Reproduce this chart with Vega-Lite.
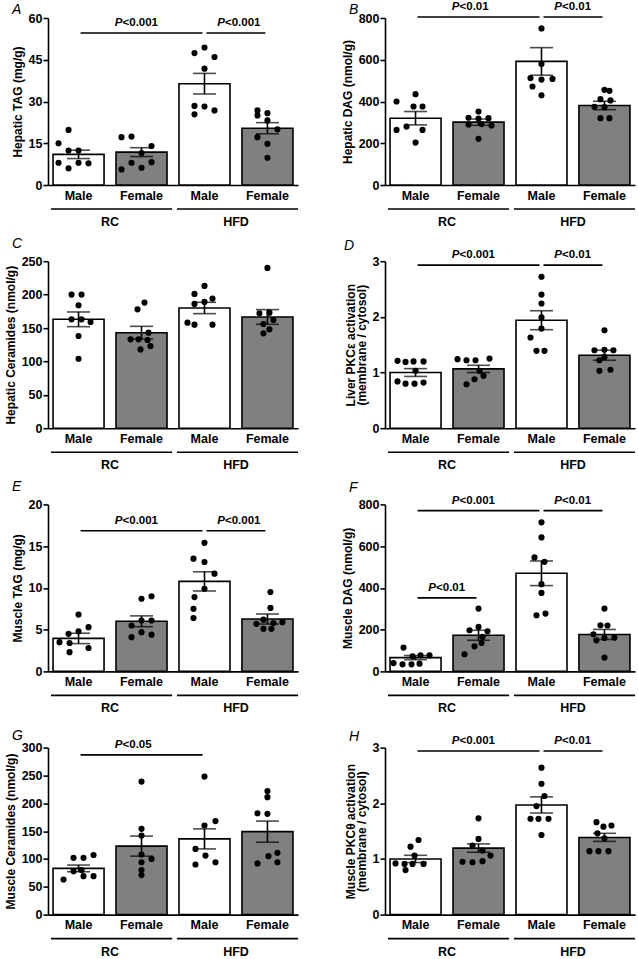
{
"$schema":"https://vega.github.io/schema/vega-lite/v6.json",
"autosize":{"type":"none"},
"padding":{"left":48,"top":18,"right":590,"bottom":941},
"config":{"font":"Liberation Sans","view":{"stroke":null},
"axis":{"domainColor":"black","domainWidth":1.6,"tickColor":"black","tickWidth":1.6,"labelColor":"black","labelFontWeight":"bold","labelFontSize":12.5,"titleColor":"black","titleFontWeight":"bold","titleFontSize":12,"grid":false},
"axisX":{"ticks":false,"labelAngle":0,"labelPadding":4},
"axisY":{"tickSize":5,"labelPadding":1,"titlePadding":4,"titleLineHeight":11,"labelOverlap":false,"tickCount":10},
"title":{"anchor":"start","frame":"group","fontSize":14,"fontStyle":"italic","fontWeight":"normal","color":"black","dx":-36,"offset":-1,"baseline":"alphabetic"}},
"datasets":{
"bars":[
{"panel":"A","cat":"RC-Male","mean":11.0,"lo":9.5,"hi":12.5},{"panel":"A","cat":"RC-Female","mean":11.8,"lo":10.2,"hi":13.4},{"panel":"A","cat":"HFD-Male","mean":36.4,"lo":32.7,"hi":40.1},{"panel":"A","cat":"HFD-Female","mean":20.4,"lo":18.4,"hi":22.4},
{"panel":"B","cat":"RC-Male","mean":320,"lo":288,"hi":352},{"panel":"B","cat":"RC-Female","mean":301,"lo":286,"hi":316},{"panel":"B","cat":"HFD-Male","mean":592,"lo":526,"hi":658},{"panel":"B","cat":"HFD-Female","mean":381,"lo":361,"hi":401},
{"panel":"C","cat":"RC-Male","mean":163,"lo":152,"hi":174},{"panel":"C","cat":"RC-Female","mean":143,"lo":133.5,"hi":152.5},{"panel":"C","cat":"HFD-Male","mean":180,"lo":171.5,"hi":188.5},{"panel":"C","cat":"HFD-Female","mean":166.5,"lo":155.5,"hi":177.5},
{"panel":"D","cat":"RC-Male","mean":1.0,"lo":0.93,"hi":1.07},{"panel":"D","cat":"RC-Female","mean":1.065,"lo":1.0,"hi":1.13},{"panel":"D","cat":"HFD-Male","mean":1.94,"lo":1.77,"hi":2.11},{"panel":"D","cat":"HFD-Female","mean":1.31,"lo":1.22,"hi":1.40},
{"panel":"E","cat":"RC-Male","mean":3.95,"lo":3.33,"hi":4.57},{"panel":"E","cat":"RC-Female","mean":6.0,"lo":5.35,"hi":6.65},{"panel":"E","cat":"HFD-Male","mean":10.78,"lo":9.63,"hi":11.93},{"panel":"E","cat":"HFD-Female","mean":6.27,"lo":5.67,"hi":6.87},
{"panel":"F","cat":"RC-Male","mean":66,"lo":56,"hi":76},{"panel":"F","cat":"RC-Female","mean":173,"lo":149,"hi":197},{"panel":"F","cat":"HFD-Male","mean":470,"lo":411,"hi":529},{"panel":"F","cat":"HFD-Female","mean":177,"lo":153,"hi":201},
{"panel":"G","cat":"RC-Male","mean":83,"lo":77,"hi":89},{"panel":"G","cat":"RC-Female","mean":123,"lo":105,"hi":141},{"panel":"G","cat":"HFD-Male","mean":136,"lo":118,"hi":154},{"panel":"G","cat":"HFD-Female","mean":149,"lo":130,"hi":168},
{"panel":"H","cat":"RC-Male","mean":1.0,"lo":0.935,"hi":1.065},{"panel":"H","cat":"RC-Female","mean":1.195,"lo":1.12,"hi":1.27},{"panel":"H","cat":"HFD-Male","mean":1.97,"lo":1.825,"hi":2.115},{"panel":"H","cat":"HFD-Female","mean":1.386,"lo":1.315,"hi":1.46}
],
"dots":[
{"panel":"A","cat":"RC-Male","v":19.8,"j":-1},{"panel":"A","cat":"RC-Male","v":15,"j":-2},{"panel":"A","cat":"RC-Male","v":12.4,"j":-1},{"panel":"A","cat":"RC-Male","v":12.4,"j":0},{"panel":"A","cat":"RC-Male","v":8,"j":-2},{"panel":"A","cat":"RC-Male","v":8,"j":0},{"panel":"A","cat":"RC-Male","v":7.8,"j":1},{"panel":"A","cat":"RC-Male","v":6,"j":-1},
{"panel":"A","cat":"RC-Female","v":17.2,"j":-2},{"panel":"A","cat":"RC-Female","v":17.4,"j":-1},{"panel":"A","cat":"RC-Female","v":14,"j":1},{"panel":"A","cat":"RC-Female","v":11.5,"j":0},{"panel":"A","cat":"RC-Female","v":8,"j":-1},{"panel":"A","cat":"RC-Female","v":8.2,"j":1},{"panel":"A","cat":"RC-Female","v":5.6,"j":-2},{"panel":"A","cat":"RC-Female","v":6.2,"j":0},
{"panel":"A","cat":"HFD-Male","v":47.4,"j":-1},{"panel":"A","cat":"HFD-Male","v":49.4,"j":0},{"panel":"A","cat":"HFD-Male","v":46,"j":1},{"panel":"A","cat":"HFD-Male","v":41.8,"j":0},{"panel":"A","cat":"HFD-Male","v":28.4,"j":-1},{"panel":"A","cat":"HFD-Male","v":28.2,"j":0},{"panel":"A","cat":"HFD-Male","v":25.4,"j":-1},{"panel":"A","cat":"HFD-Male","v":26.8,"j":1},
{"panel":"A","cat":"HFD-Female","v":26.8,"j":-1},{"panel":"A","cat":"HFD-Female","v":25.8,"j":0},{"panel":"A","cat":"HFD-Female","v":25,"j":-1},{"panel":"A","cat":"HFD-Female","v":23.2,"j":0},{"panel":"A","cat":"HFD-Female","v":20,"j":1},{"panel":"A","cat":"HFD-Female","v":17.2,"j":-1},{"panel":"A","cat":"HFD-Female","v":14.8,"j":0},{"panel":"A","cat":"HFD-Female","v":9.8,"j":0},
{"panel":"B","cat":"RC-Male","v":435,"j":0},{"panel":"B","cat":"RC-Male","v":400,"j":-1.9},{"panel":"B","cat":"RC-Male","v":376,"j":-0.2},{"panel":"B","cat":"RC-Male","v":376,"j":0.7},{"panel":"B","cat":"RC-Male","v":280,"j":-0.9},{"panel":"B","cat":"RC-Male","v":264,"j":-1.9},{"panel":"B","cat":"RC-Male","v":264,"j":0.7},{"panel":"B","cat":"RC-Male","v":203,"j":0},
{"panel":"B","cat":"RC-Female","v":352,"j":0},{"panel":"B","cat":"RC-Female","v":322,"j":-1},{"panel":"B","cat":"RC-Female","v":318,"j":0},{"panel":"B","cat":"RC-Female","v":320,"j":1},{"panel":"B","cat":"RC-Female","v":290,"j":-1},{"panel":"B","cat":"RC-Female","v":292,"j":0.3},{"panel":"B","cat":"RC-Female","v":285,"j":1.3},{"panel":"B","cat":"RC-Female","v":221,"j":0},
{"panel":"B","cat":"HFD-Male","v":750,"j":0},{"panel":"B","cat":"HFD-Male","v":580,"j":0},{"panel":"B","cat":"HFD-Male","v":512,"j":-1.1},{"panel":"B","cat":"HFD-Male","v":505,"j":0},{"panel":"B","cat":"HFD-Male","v":508,"j":1.1},{"panel":"B","cat":"HFD-Male","v":472,"j":-0.9},{"panel":"B","cat":"HFD-Male","v":430,"j":0},
{"panel":"B","cat":"HFD-Female","v":456,"j":0},{"panel":"B","cat":"HFD-Female","v":451,"j":0.5},{"panel":"B","cat":"HFD-Female","v":411,"j":-0.4},{"panel":"B","cat":"HFD-Female","v":405,"j":0.6},{"panel":"B","cat":"HFD-Female","v":375,"j":-1},{"panel":"B","cat":"HFD-Female","v":373,"j":0},{"panel":"B","cat":"HFD-Female","v":320,"j":-0.4},{"panel":"B","cat":"HFD-Female","v":320,"j":0.5},
{"panel":"C","cat":"RC-Male","v":200,"j":-0.7},{"panel":"C","cat":"RC-Male","v":200,"j":0.3},{"panel":"C","cat":"RC-Male","v":184,"j":0},{"panel":"C","cat":"RC-Male","v":163,"j":-0.7},{"panel":"C","cat":"RC-Male","v":163,"j":0.3},{"panel":"C","cat":"RC-Male","v":159,"j":1.2},{"panel":"C","cat":"RC-Male","v":138,"j":0},{"panel":"C","cat":"RC-Male","v":104,"j":0},
{"panel":"C","cat":"RC-Female","v":188,"j":0.3},{"panel":"C","cat":"RC-Female","v":178,"j":-0.4},{"panel":"C","cat":"RC-Female","v":143,"j":0.7},{"panel":"C","cat":"RC-Female","v":133,"j":-1.1},{"panel":"C","cat":"RC-Female","v":133,"j":-0.3},{"panel":"C","cat":"RC-Female","v":132,"j":0.6},{"panel":"C","cat":"RC-Female","v":123,"j":0.9},{"panel":"C","cat":"RC-Female","v":118,"j":-0.1},
{"panel":"C","cat":"HFD-Male","v":213,"j":0},{"panel":"C","cat":"HFD-Male","v":201,"j":-1},{"panel":"C","cat":"HFD-Male","v":194,"j":0.8},{"panel":"C","cat":"HFD-Male","v":189,"j":0},{"panel":"C","cat":"HFD-Male","v":186,"j":-1},{"panel":"C","cat":"HFD-Male","v":158,"j":-1.7},{"panel":"C","cat":"HFD-Male","v":155,"j":-1},{"panel":"C","cat":"HFD-Male","v":155,"j":0.8},
{"panel":"C","cat":"HFD-Female","v":240,"j":0},{"panel":"C","cat":"HFD-Female","v":173,"j":0.2},{"panel":"C","cat":"HFD-Female","v":172,"j":-0.8},{"panel":"C","cat":"HFD-Female","v":162,"j":0.6},{"panel":"C","cat":"HFD-Female","v":156,"j":-0.4},{"panel":"C","cat":"HFD-Female","v":148,"j":0.2},{"panel":"C","cat":"HFD-Female","v":142,"j":-0.4},
{"panel":"D","cat":"RC-Male","v":1.21,"j":-1.8},{"panel":"D","cat":"RC-Male","v":1.19,"j":-1},{"panel":"D","cat":"RC-Male","v":1.2,"j":-0.2},{"panel":"D","cat":"RC-Male","v":1.2,"j":0.8},{"panel":"D","cat":"RC-Male","v":1.03,"j":0},{"panel":"D","cat":"RC-Male","v":0.84,"j":-1.8},{"panel":"D","cat":"RC-Male","v":0.8,"j":-1},{"panel":"D","cat":"RC-Male","v":0.8,"j":-0.1},{"panel":"D","cat":"RC-Male","v":0.82,"j":0.8},
{"panel":"D","cat":"RC-Female","v":1.24,"j":-2.1},{"panel":"D","cat":"RC-Female","v":1.22,"j":-1.2},{"panel":"D","cat":"RC-Female","v":1.22,"j":-0.3},{"panel":"D","cat":"RC-Female","v":1.25,"j":1.1},{"panel":"D","cat":"RC-Female","v":1.03,"j":0.1},{"panel":"D","cat":"RC-Female","v":0.94,"j":0.5},{"panel":"D","cat":"RC-Female","v":0.88,"j":-0.4},{"panel":"D","cat":"RC-Female","v":0.79,"j":-1.2},
{"panel":"D","cat":"HFD-Male","v":2.72,"j":0},{"panel":"D","cat":"HFD-Male","v":2.4,"j":0},{"panel":"D","cat":"HFD-Male","v":2.24,"j":0},{"panel":"D","cat":"HFD-Male","v":1.99,"j":0},{"panel":"D","cat":"HFD-Male","v":1.79,"j":0},{"panel":"D","cat":"HFD-Male","v":1.63,"j":-1.1},{"panel":"D","cat":"HFD-Male","v":1.39,"j":-0.5},{"panel":"D","cat":"HFD-Male","v":1.39,"j":0.3},
{"panel":"D","cat":"HFD-Female","v":1.76,"j":0},{"panel":"D","cat":"HFD-Female","v":1.4,"j":-1},{"panel":"D","cat":"HFD-Female","v":1.41,"j":0},{"panel":"D","cat":"HFD-Female","v":1.4,"j":0.9},{"panel":"D","cat":"HFD-Female","v":1.28,"j":0},{"panel":"D","cat":"HFD-Female","v":1.22,"j":-0.5},{"panel":"D","cat":"HFD-Female","v":1.03,"j":-0.5},{"panel":"D","cat":"HFD-Female","v":1.05,"j":0.6},
{"panel":"E","cat":"RC-Male","v":6.8,"j":0},{"panel":"E","cat":"RC-Male","v":5.3,"j":1},{"panel":"E","cat":"RC-Male","v":4.8,"j":0},{"panel":"E","cat":"RC-Male","v":4.5,"j":-1},{"panel":"E","cat":"RC-Male","v":3.5,"j":-1.9},{"panel":"E","cat":"RC-Male","v":3.4,"j":-0.9},{"panel":"E","cat":"RC-Male","v":2.8,"j":1},{"panel":"E","cat":"RC-Male","v":2.3,"j":-0.9},
{"panel":"E","cat":"RC-Female","v":8.7,"j":0},{"panel":"E","cat":"RC-Female","v":9.0,"j":1},{"panel":"E","cat":"RC-Female","v":6.1,"j":0},{"panel":"E","cat":"RC-Female","v":6.1,"j":1},{"panel":"E","cat":"RC-Female","v":5.5,"j":-1},{"panel":"E","cat":"RC-Female","v":4.7,"j":0},{"panel":"E","cat":"RC-Female","v":4.4,"j":1},{"panel":"E","cat":"RC-Female","v":4.1,"j":-1},
{"panel":"E","cat":"HFD-Male","v":15.4,"j":0},{"panel":"E","cat":"HFD-Male","v":13.5,"j":-1.1},{"panel":"E","cat":"HFD-Male","v":13.1,"j":0},{"panel":"E","cat":"HFD-Male","v":11.7,"j":1},{"panel":"E","cat":"HFD-Male","v":9.9,"j":0},{"panel":"E","cat":"HFD-Male","v":8.9,"j":-1},{"panel":"E","cat":"HFD-Male","v":7.5,"j":-1.1},{"panel":"E","cat":"HFD-Male","v":6.4,"j":-1.1},
{"panel":"E","cat":"HFD-Female","v":9.5,"j":0.3},{"panel":"E","cat":"HFD-Female","v":7.6,"j":0.3},{"panel":"E","cat":"HFD-Female","v":6.2,"j":-0.4},{"panel":"E","cat":"HFD-Female","v":5.7,"j":-1.1},{"panel":"E","cat":"HFD-Female","v":5.8,"j":0.6},{"panel":"E","cat":"HFD-Female","v":5.9,"j":1.5},{"panel":"E","cat":"HFD-Female","v":5.1,"j":-0.4},{"panel":"E","cat":"HFD-Female","v":5.1,"j":0.4},
{"panel":"F","cat":"RC-Male","v":114,"j":-1.2},{"panel":"F","cat":"RC-Male","v":72,"j":-0.3},{"panel":"F","cat":"RC-Male","v":77,"j":0.5},{"panel":"F","cat":"RC-Male","v":77,"j":1.4},{"panel":"F","cat":"RC-Male","v":40,"j":-2.2},{"panel":"F","cat":"RC-Male","v":34,"j":-1.3},{"panel":"F","cat":"RC-Male","v":34,"j":-0.4},{"panel":"F","cat":"RC-Male","v":37,"j":0.4},
{"panel":"F","cat":"RC-Female","v":301,"j":0},{"panel":"F","cat":"RC-Female","v":213,"j":0},{"panel":"F","cat":"RC-Female","v":197,"j":-0.9},{"panel":"F","cat":"RC-Female","v":192,"j":0.9},{"panel":"F","cat":"RC-Female","v":165,"j":0.4},{"panel":"F","cat":"RC-Female","v":136,"j":0.3},{"panel":"F","cat":"RC-Female","v":120,"j":-0.4},{"panel":"F","cat":"RC-Female","v":82,"j":-1.4},
{"panel":"F","cat":"HFD-Male","v":714,"j":0},{"panel":"F","cat":"HFD-Male","v":642,"j":0},{"panel":"F","cat":"HFD-Male","v":546,"j":-0.7},{"panel":"F","cat":"HFD-Male","v":525,"j":0.3},{"panel":"F","cat":"HFD-Male","v":418,"j":0},{"panel":"F","cat":"HFD-Male","v":376,"j":0},{"panel":"F","cat":"HFD-Male","v":269,"j":-0.5},{"panel":"F","cat":"HFD-Male","v":277,"j":0.4},
{"panel":"F","cat":"HFD-Female","v":301,"j":0},{"panel":"F","cat":"HFD-Female","v":221,"j":-0.4},{"panel":"F","cat":"HFD-Female","v":220,"j":0.3},{"panel":"F","cat":"HFD-Female","v":178,"j":-1.1},{"panel":"F","cat":"HFD-Female","v":160,"j":0},{"panel":"F","cat":"HFD-Female","v":162,"j":1},{"panel":"F","cat":"HFD-Female","v":149,"j":-0.8},{"panel":"F","cat":"HFD-Female","v":66,"j":0},
{"panel":"G","cat":"RC-Male","v":102,"j":-0.5},{"panel":"G","cat":"RC-Male","v":102,"j":0.5},{"panel":"G","cat":"RC-Male","v":107,"j":1.5},{"panel":"G","cat":"RC-Male","v":63,"j":-1.5},{"panel":"G","cat":"RC-Male","v":78,"j":-0.5},{"panel":"G","cat":"RC-Male","v":80,"j":0.3},{"panel":"G","cat":"RC-Male","v":69,"j":0.5},{"panel":"G","cat":"RC-Male","v":69,"j":1.5},
{"panel":"G","cat":"RC-Female","v":239,"j":0},{"panel":"G","cat":"RC-Female","v":154,"j":0},{"panel":"G","cat":"RC-Female","v":142,"j":0},{"panel":"G","cat":"RC-Female","v":108,"j":0},{"panel":"G","cat":"RC-Female","v":100,"j":1},{"panel":"G","cat":"RC-Female","v":94,"j":0},{"panel":"G","cat":"RC-Female","v":80,"j":0},{"panel":"G","cat":"RC-Female","v":71,"j":0},
{"panel":"G","cat":"HFD-Male","v":248,"j":0},{"panel":"G","cat":"HFD-Male","v":168,"j":1.1},{"panel":"G","cat":"HFD-Male","v":160,"j":0},{"panel":"G","cat":"HFD-Male","v":118,"j":-0.9},{"panel":"G","cat":"HFD-Male","v":106,"j":0.1},{"panel":"G","cat":"HFD-Male","v":90,"j":-0.9},{"panel":"G","cat":"HFD-Male","v":94,"j":1.1},
{"panel":"G","cat":"HFD-Female","v":222,"j":0},{"panel":"G","cat":"HFD-Female","v":211,"j":0},{"panel":"G","cat":"HFD-Female","v":182,"j":-1},{"panel":"G","cat":"HFD-Female","v":181,"j":0},{"panel":"G","cat":"HFD-Female","v":92,"j":-1},{"panel":"G","cat":"HFD-Female","v":105,"j":0.1},{"panel":"G","cat":"HFD-Female","v":111,"j":1},{"panel":"G","cat":"HFD-Female","v":94,"j":1},
{"panel":"H","cat":"RC-Male","v":1.34,"j":0.3},{"panel":"H","cat":"RC-Male","v":1.22,"j":-0.5},{"panel":"H","cat":"RC-Male","v":1.06,"j":-0.1},{"panel":"H","cat":"RC-Male","v":0.92,"j":-2},{"panel":"H","cat":"RC-Male","v":0.91,"j":-1.1},{"panel":"H","cat":"RC-Male","v":0.91,"j":-0.3},{"panel":"H","cat":"RC-Male","v":0.91,"j":0.8},{"panel":"H","cat":"RC-Male","v":0.8,"j":-1},
{"panel":"H","cat":"RC-Female","v":1.73,"j":0},{"panel":"H","cat":"RC-Female","v":1.36,"j":0},{"panel":"H","cat":"RC-Female","v":1.24,"j":-0.6},{"panel":"H","cat":"RC-Female","v":1.15,"j":0.4},{"panel":"H","cat":"RC-Female","v":1.06,"j":1.2},{"panel":"H","cat":"RC-Female","v":0.96,"j":0.4},{"panel":"H","cat":"RC-Female","v":0.94,"j":-0.6},{"panel":"H","cat":"RC-Female","v":0.95,"j":-1.6},
{"panel":"H","cat":"HFD-Male","v":2.64,"j":0},{"panel":"H","cat":"HFD-Male","v":2.35,"j":0},{"panel":"H","cat":"HFD-Male","v":2.13,"j":0.3},{"panel":"H","cat":"HFD-Male","v":1.95,"j":-0.5},{"panel":"H","cat":"HFD-Male","v":1.72,"j":-1.1},{"panel":"H","cat":"HFD-Male","v":1.72,"j":-0.3},{"panel":"H","cat":"HFD-Male","v":1.72,"j":0.7},{"panel":"H","cat":"HFD-Male","v":1.43,"j":0},
{"panel":"H","cat":"HFD-Female","v":1.66,"j":-0.8},{"panel":"H","cat":"HFD-Female","v":1.58,"j":-0.1},{"panel":"H","cat":"HFD-Female","v":1.6,"j":0.7},{"panel":"H","cat":"HFD-Female","v":1.46,"j":-0.7},{"panel":"H","cat":"HFD-Female","v":1.37,"j":0},{"panel":"H","cat":"HFD-Female","v":1.14,"j":-1.5},{"panel":"H","cat":"HFD-Female","v":1.14,"j":-0.6},{"panel":"H","cat":"HFD-Female","v":1.14,"j":0.4}
],
"br":[
{"panel":"A","cat":"RC-Male","cat2":"HFD-Male","tc":"RC-Female","kind":"long","y":54.6,"p":"<0.001"},{"panel":"A","cat":"HFD-Male","cat2":"HFD-Female","tc":"HFD-Male","kind":"short","y":54.6,"p":"<0.001"},
{"panel":"B","cat":"RC-Male","cat2":"HFD-Male","tc":"RC-Female","kind":"long","y":805,"p":"<0.01"},{"panel":"B","cat":"HFD-Male","cat2":"HFD-Female","tc":"HFD-Male","kind":"short","y":805,"p":"<0.01"},
{"panel":"D","cat":"RC-Male","cat2":"HFD-Male","tc":"RC-Female","kind":"long","y":2.93,"p":"<0.001"},{"panel":"D","cat":"HFD-Male","cat2":"HFD-Female","tc":"HFD-Male","kind":"short","y":2.93,"p":"<0.01"},
{"panel":"E","cat":"RC-Male","cat2":"HFD-Male","tc":"RC-Female","kind":"long","y":16.85,"p":"<0.001"},{"panel":"E","cat":"HFD-Male","cat2":"HFD-Female","tc":"HFD-Male","kind":"short","y":16.85,"p":"<0.001"},
{"panel":"F","cat":"RC-Male","cat2":"HFD-Male","tc":"RC-Female","kind":"long","y":770,"p":"<0.001"},{"panel":"F","cat":"HFD-Male","cat2":"HFD-Female","tc":"HFD-Male","kind":"short","y":770,"p":"<0.01"},{"panel":"F","cat":"RC-Male","cat2":"RC-Female","tc":"RC-Male","kind":"short","y":352,"p":"<0.01"},
{"panel":"G","cat":"RC-Male","cat2":"HFD-Male","tc":"RC-Female","kind":"long","y":287,"p":"<0.05"},
{"panel":"H","cat":"RC-Male","cat2":"HFD-Male","tc":"RC-Female","kind":"long","y":2.94,"p":"<0.001"},{"panel":"H","cat":"HFD-Male","cat2":"HFD-Female","tc":"HFD-Male","kind":"short","y":2.94,"p":"<0.01"}
],
"grp":[{"cat":"RC-Male","cat2":"RC-Female","g":"RC"},{"cat":"HFD-Male","cat2":"HFD-Female","g":"HFD"}]
},
"columns":2,
"spacing":{"row":76.2,"column":87},
"bounds":"flush",
"concat":[
{"width":250,"height":167,"title":{"text":"A","dy":4},"resolve":{"scale":{"xOffset":"independent"}},"layer":[
{"data":{"name":"bars"},"transform":[{"filter":"datum.panel=='A'"}],"mark":{"type":"bar","stroke":"black","strokeWidth":1.6},"encoding":{"x":{"field":"cat","type":"nominal","sort":null,"scale":{"domain":["RC-Male","RC-Female","HFD-Male","HFD-Female"],"paddingInner":0.19,"paddingOuter":0.08},"axis":{"title":null,"labelExpr":"split(datum.value,'-')[1]"}},"y":{"field":"mean","type":"quantitative","scale":{"domain":[0,60],"nice":false},"axis":{"values":[0,15,30,45,60],"title":"Hepatic TAG (mg/g)"}},"fill":{"condition":{"test":"indexof(datum.cat,'Female')>=0","value":"#808080"},"value":"white"}}},
{"data":{"name":"dots"},"transform":[{"filter":"datum.panel=='A'"}],"mark":{"type":"circle","size":38,"color":"black","opacity":1},"encoding":{"x":{"field":"cat","type":"nominal"},"xOffset":{"field":"j","type":"quantitative","scale":{"domain":[-2.55,2.55],"range":[0,51]}},"y":{"field":"v","type":"quantitative"}}},
{"data":{"name":"bars"},"transform":[{"filter":"datum.panel=='A'"}],"mark":{"type":"errorbar","ticks":true,"size":23,"thickness":1.6,"color":"black"},"encoding":{"x":{"field":"cat","type":"nominal"},"y":{"field":"lo","type":"quantitative","title":"Hepatic TAG (mg/g)"},"y2":{"field":"hi"}}},
{"data":{"name":"br"},"transform":[{"filter":"datum.panel=='A'"}],"mark":{"type":"rule","color":"black","strokeWidth":1.6,"xOffset":2,"x2Offset":-2},"encoding":{"x":{"field":"cat","type":"nominal"},"x2":{"field":"cat2"},"y":{"field":"y","type":"quantitative"}}},
{"data":{"name":"br"},"transform":[{"filter":"datum.panel=='A' && datum.kind=='long'"}],"mark":{"type":"text","text":"P","align":"right","dx":-19,"dy":-7,"baseline":"alphabetic","fontStyle":"italic","fontWeight":"bold","fontSize":11.5},"encoding":{"x":{"field":"tc","type":"nominal"},"y":{"field":"y","type":"quantitative"}}},
{"data":{"name":"br"},"transform":[{"filter":"datum.panel=='A' && datum.kind=='long'"}],"mark":{"type":"text","align":"left","dx":-19,"dy":-7,"baseline":"alphabetic","fontWeight":"bold","fontSize":11.5},"encoding":{"x":{"field":"tc","type":"nominal"},"y":{"field":"y","type":"quantitative"},"text":{"field":"p"}}},
{"data":{"name":"br"},"transform":[{"filter":"datum.panel=='A' && datum.kind=='short'"}],"mark":{"type":"text","text":"P","align":"right","dx":-11,"dy":-7,"baseline":"alphabetic","fontStyle":"italic","fontWeight":"bold","fontSize":11.5},"encoding":{"x":{"field":"cat","type":"nominal","bandPosition":1.1176},"y":{"field":"y","type":"quantitative"}}},
{"data":{"name":"br"},"transform":[{"filter":"datum.panel=='A' && datum.kind=='short'"}],"mark":{"type":"text","align":"left","dx":-11,"dy":-7,"baseline":"alphabetic","fontWeight":"bold","fontSize":11.5},"encoding":{"x":{"field":"cat","type":"nominal","bandPosition":1.1176},"y":{"field":"y","type":"quantitative"},"text":{"field":"p"}}},
{"data":{"name":"grp"},"mark":{"type":"rule","color":"black","strokeWidth":1.6,"yOffset":24},"encoding":{"x":{"field":"cat","type":"nominal","bandPosition":-0.04},"x2":{"field":"cat2","bandPosition":1.1},"y":{"value":"height"}}},
{"data":{"name":"grp"},"mark":{"type":"text","fontWeight":"bold","fontSize":12.5,"baseline":"middle","yOffset":37},"encoding":{"x":{"field":"cat","type":"nominal","bandPosition":1.1176},"y":{"value":"height"},"text":{"field":"g"}}}
]},
{"width":250,"height":167,"title":{"text":"B","dy":15},"resolve":{"scale":{"xOffset":"independent"}},"layer":[
{"data":{"name":"bars"},"transform":[{"filter":"datum.panel=='B'"}],"mark":{"type":"bar","stroke":"black","strokeWidth":1.6},"encoding":{"x":{"field":"cat","type":"nominal","sort":null,"scale":{"domain":["RC-Male","RC-Female","HFD-Male","HFD-Female"],"paddingInner":0.19,"paddingOuter":0.08},"axis":{"title":null,"labelExpr":"split(datum.value,'-')[1]"}},"y":{"field":"mean","type":"quantitative","scale":{"domain":[0,800],"nice":false},"axis":{"values":[0,200,400,600,800],"title":"Hepatic DAG (nmol/g)"}},"fill":{"condition":{"test":"indexof(datum.cat,'Female')>=0","value":"#808080"},"value":"white"}}},
{"data":{"name":"dots"},"transform":[{"filter":"datum.panel=='B'"}],"mark":{"type":"circle","size":38,"color":"black","opacity":1},"encoding":{"x":{"field":"cat","type":"nominal"},"xOffset":{"field":"j","type":"quantitative","scale":{"domain":[-2.55,2.55],"range":[0,51]}},"y":{"field":"v","type":"quantitative"}}},
{"data":{"name":"bars"},"transform":[{"filter":"datum.panel=='B'"}],"mark":{"type":"errorbar","ticks":true,"size":23,"thickness":1.6,"color":"black"},"encoding":{"x":{"field":"cat","type":"nominal"},"y":{"field":"lo","type":"quantitative","title":"Hepatic DAG (nmol/g)"},"y2":{"field":"hi"}}},
{"data":{"name":"br"},"transform":[{"filter":"datum.panel=='B'"}],"mark":{"type":"rule","color":"black","strokeWidth":1.6,"xOffset":2,"x2Offset":-2},"encoding":{"x":{"field":"cat","type":"nominal"},"x2":{"field":"cat2"},"y":{"field":"y","type":"quantitative"}}},
{"data":{"name":"br"},"transform":[{"filter":"datum.panel=='B' && datum.kind=='long'"}],"mark":{"type":"text","text":"P","align":"right","dx":-19,"dy":-7,"baseline":"alphabetic","fontStyle":"italic","fontWeight":"bold","fontSize":11.5},"encoding":{"x":{"field":"tc","type":"nominal"},"y":{"field":"y","type":"quantitative"}}},
{"data":{"name":"br"},"transform":[{"filter":"datum.panel=='B' && datum.kind=='long'"}],"mark":{"type":"text","align":"left","dx":-19,"dy":-7,"baseline":"alphabetic","fontWeight":"bold","fontSize":11.5},"encoding":{"x":{"field":"tc","type":"nominal"},"y":{"field":"y","type":"quantitative"},"text":{"field":"p"}}},
{"data":{"name":"br"},"transform":[{"filter":"datum.panel=='B' && datum.kind=='short'"}],"mark":{"type":"text","text":"P","align":"right","dx":-11,"dy":-7,"baseline":"alphabetic","fontStyle":"italic","fontWeight":"bold","fontSize":11.5},"encoding":{"x":{"field":"cat","type":"nominal","bandPosition":1.1176},"y":{"field":"y","type":"quantitative"}}},
{"data":{"name":"br"},"transform":[{"filter":"datum.panel=='B' && datum.kind=='short'"}],"mark":{"type":"text","align":"left","dx":-11,"dy":-7,"baseline":"alphabetic","fontWeight":"bold","fontSize":11.5},"encoding":{"x":{"field":"cat","type":"nominal","bandPosition":1.1176},"y":{"field":"y","type":"quantitative"},"text":{"field":"p"}}},
{"data":{"name":"grp"},"mark":{"type":"rule","color":"black","strokeWidth":1.6,"yOffset":24},"encoding":{"x":{"field":"cat","type":"nominal","bandPosition":-0.04},"x2":{"field":"cat2","bandPosition":1.1},"y":{"value":"height"}}},
{"data":{"name":"grp"},"mark":{"type":"text","fontWeight":"bold","fontSize":12.5,"baseline":"middle","yOffset":37},"encoding":{"x":{"field":"cat","type":"nominal","bandPosition":1.1176},"y":{"value":"height"},"text":{"field":"g"}}}
]},
{"width":250,"height":167,"title":{"text":"C","dy":-5},"resolve":{"scale":{"xOffset":"independent"}},"layer":[
{"data":{"name":"bars"},"transform":[{"filter":"datum.panel=='C'"}],"mark":{"type":"bar","stroke":"black","strokeWidth":1.6},"encoding":{"x":{"field":"cat","type":"nominal","sort":null,"scale":{"domain":["RC-Male","RC-Female","HFD-Male","HFD-Female"],"paddingInner":0.19,"paddingOuter":0.08},"axis":{"title":null,"labelExpr":"split(datum.value,'-')[1]"}},"y":{"field":"mean","type":"quantitative","scale":{"domain":[0,250],"nice":false},"axis":{"values":[0,50,100,150,200,250],"tickCount":10,"title":"Hepatic Ceramides (nmol/g)"}},"fill":{"condition":{"test":"indexof(datum.cat,'Female')>=0","value":"#808080"},"value":"white"}}},
{"data":{"name":"dots"},"transform":[{"filter":"datum.panel=='C'"}],"mark":{"type":"circle","size":38,"color":"black","opacity":1},"encoding":{"x":{"field":"cat","type":"nominal"},"xOffset":{"field":"j","type":"quantitative","scale":{"domain":[-2.55,2.55],"range":[0,51]}},"y":{"field":"v","type":"quantitative"}}},
{"data":{"name":"bars"},"transform":[{"filter":"datum.panel=='C'"}],"mark":{"type":"errorbar","ticks":true,"size":23,"thickness":1.6,"color":"black"},"encoding":{"x":{"field":"cat","type":"nominal"},"y":{"field":"lo","type":"quantitative","title":"Hepatic Ceramides (nmol/g)"},"y2":{"field":"hi"}}},
{"data":{"name":"grp"},"mark":{"type":"rule","color":"black","strokeWidth":1.6,"yOffset":24},"encoding":{"x":{"field":"cat","type":"nominal","bandPosition":-0.04},"x2":{"field":"cat2","bandPosition":1.1},"y":{"value":"height"}}},
{"data":{"name":"grp"},"mark":{"type":"text","fontWeight":"bold","fontSize":12.5,"baseline":"middle","yOffset":37},"encoding":{"x":{"field":"cat","type":"nominal","bandPosition":1.1176},"y":{"value":"height"},"text":{"field":"g"}}}
]},
{"width":250,"height":167,"title":{"text":"D","dy":2.5,"dx":-41},"resolve":{"scale":{"xOffset":"independent"}},"layer":[
{"data":{"name":"bars"},"transform":[{"filter":"datum.panel=='D'"}],"mark":{"type":"bar","stroke":"black","strokeWidth":1.6},"encoding":{"x":{"field":"cat","type":"nominal","sort":null,"scale":{"domain":["RC-Male","RC-Female","HFD-Male","HFD-Female"],"paddingInner":0.19,"paddingOuter":0.08},"axis":{"title":null,"labelExpr":"split(datum.value,'-')[1]"}},"y":{"field":"mean","type":"quantitative","scale":{"domain":[0,3],"nice":false},"axis":{"values":[0,1,2,3],"format":"d","title":["Liver PKCε activation","(membrane / cytosol)"]}},"fill":{"condition":{"test":"indexof(datum.cat,'Female')>=0","value":"#808080"},"value":"white"}}},
{"data":{"name":"dots"},"transform":[{"filter":"datum.panel=='D'"}],"mark":{"type":"circle","size":38,"color":"black","opacity":1},"encoding":{"x":{"field":"cat","type":"nominal"},"xOffset":{"field":"j","type":"quantitative","scale":{"domain":[-2.55,2.55],"range":[0,51]}},"y":{"field":"v","type":"quantitative"}}},
{"data":{"name":"bars"},"transform":[{"filter":"datum.panel=='D'"}],"mark":{"type":"errorbar","ticks":true,"size":23,"thickness":1.6,"color":"black"},"encoding":{"x":{"field":"cat","type":"nominal"},"y":{"field":"lo","type":"quantitative","title":["Liver PKCε activation","(membrane / cytosol)"]},"y2":{"field":"hi"}}},
{"data":{"name":"br"},"transform":[{"filter":"datum.panel=='D'"}],"mark":{"type":"rule","color":"black","strokeWidth":1.6,"xOffset":2,"x2Offset":-2},"encoding":{"x":{"field":"cat","type":"nominal"},"x2":{"field":"cat2"},"y":{"field":"y","type":"quantitative"}}},
{"data":{"name":"br"},"transform":[{"filter":"datum.panel=='D' && datum.kind=='long'"}],"mark":{"type":"text","text":"P","align":"right","dx":-19,"dy":-7,"baseline":"alphabetic","fontStyle":"italic","fontWeight":"bold","fontSize":11.5},"encoding":{"x":{"field":"tc","type":"nominal"},"y":{"field":"y","type":"quantitative"}}},
{"data":{"name":"br"},"transform":[{"filter":"datum.panel=='D' && datum.kind=='long'"}],"mark":{"type":"text","align":"left","dx":-19,"dy":-7,"baseline":"alphabetic","fontWeight":"bold","fontSize":11.5},"encoding":{"x":{"field":"tc","type":"nominal"},"y":{"field":"y","type":"quantitative"},"text":{"field":"p"}}},
{"data":{"name":"br"},"transform":[{"filter":"datum.panel=='D' && datum.kind=='short'"}],"mark":{"type":"text","text":"P","align":"right","dx":-11,"dy":-7,"baseline":"alphabetic","fontStyle":"italic","fontWeight":"bold","fontSize":11.5},"encoding":{"x":{"field":"cat","type":"nominal","bandPosition":1.1176},"y":{"field":"y","type":"quantitative"}}},
{"data":{"name":"br"},"transform":[{"filter":"datum.panel=='D' && datum.kind=='short'"}],"mark":{"type":"text","align":"left","dx":-11,"dy":-7,"baseline":"alphabetic","fontWeight":"bold","fontSize":11.5},"encoding":{"x":{"field":"cat","type":"nominal","bandPosition":1.1176},"y":{"field":"y","type":"quantitative"},"text":{"field":"p"}}},
{"data":{"name":"grp"},"mark":{"type":"rule","color":"black","strokeWidth":1.6,"yOffset":24},"encoding":{"x":{"field":"cat","type":"nominal","bandPosition":-0.04},"x2":{"field":"cat2","bandPosition":1.1},"y":{"value":"height"}}},
{"data":{"name":"grp"},"mark":{"type":"text","fontWeight":"bold","fontSize":12.5,"baseline":"middle","yOffset":37},"encoding":{"x":{"field":"cat","type":"nominal","bandPosition":1.1176},"y":{"value":"height"},"text":{"field":"g"}}}
]},
{"width":250,"height":167,"title":{"text":"E","dy":-5},"resolve":{"scale":{"xOffset":"independent"}},"layer":[
{"data":{"name":"bars"},"transform":[{"filter":"datum.panel=='E'"}],"mark":{"type":"bar","stroke":"black","strokeWidth":1.6},"encoding":{"x":{"field":"cat","type":"nominal","sort":null,"scale":{"domain":["RC-Male","RC-Female","HFD-Male","HFD-Female"],"paddingInner":0.19,"paddingOuter":0.08},"axis":{"title":null,"labelExpr":"split(datum.value,'-')[1]"}},"y":{"field":"mean","type":"quantitative","scale":{"domain":[0,20],"nice":false},"axis":{"values":[0,5,10,15,20],"title":"Muscle TAG (mg/g)"}},"fill":{"condition":{"test":"indexof(datum.cat,'Female')>=0","value":"#808080"},"value":"white"}}},
{"data":{"name":"dots"},"transform":[{"filter":"datum.panel=='E'"}],"mark":{"type":"circle","size":38,"color":"black","opacity":1},"encoding":{"x":{"field":"cat","type":"nominal"},"xOffset":{"field":"j","type":"quantitative","scale":{"domain":[-2.55,2.55],"range":[0,51]}},"y":{"field":"v","type":"quantitative"}}},
{"data":{"name":"bars"},"transform":[{"filter":"datum.panel=='E'"}],"mark":{"type":"errorbar","ticks":true,"size":23,"thickness":1.6,"color":"black"},"encoding":{"x":{"field":"cat","type":"nominal"},"y":{"field":"lo","type":"quantitative","title":"Muscle TAG (mg/g)"},"y2":{"field":"hi"}}},
{"data":{"name":"br"},"transform":[{"filter":"datum.panel=='E'"}],"mark":{"type":"rule","color":"black","strokeWidth":1.6,"xOffset":2,"x2Offset":-2},"encoding":{"x":{"field":"cat","type":"nominal"},"x2":{"field":"cat2"},"y":{"field":"y","type":"quantitative"}}},
{"data":{"name":"br"},"transform":[{"filter":"datum.panel=='E' && datum.kind=='long'"}],"mark":{"type":"text","text":"P","align":"right","dx":-19,"dy":-7,"baseline":"alphabetic","fontStyle":"italic","fontWeight":"bold","fontSize":11.5},"encoding":{"x":{"field":"tc","type":"nominal"},"y":{"field":"y","type":"quantitative"}}},
{"data":{"name":"br"},"transform":[{"filter":"datum.panel=='E' && datum.kind=='long'"}],"mark":{"type":"text","align":"left","dx":-19,"dy":-7,"baseline":"alphabetic","fontWeight":"bold","fontSize":11.5},"encoding":{"x":{"field":"tc","type":"nominal"},"y":{"field":"y","type":"quantitative"},"text":{"field":"p"}}},
{"data":{"name":"br"},"transform":[{"filter":"datum.panel=='E' && datum.kind=='short'"}],"mark":{"type":"text","text":"P","align":"right","dx":-11,"dy":-7,"baseline":"alphabetic","fontStyle":"italic","fontWeight":"bold","fontSize":11.5},"encoding":{"x":{"field":"cat","type":"nominal","bandPosition":1.1176},"y":{"field":"y","type":"quantitative"}}},
{"data":{"name":"br"},"transform":[{"filter":"datum.panel=='E' && datum.kind=='short'"}],"mark":{"type":"text","align":"left","dx":-11,"dy":-7,"baseline":"alphabetic","fontWeight":"bold","fontSize":11.5},"encoding":{"x":{"field":"cat","type":"nominal","bandPosition":1.1176},"y":{"field":"y","type":"quantitative"},"text":{"field":"p"}}},
{"data":{"name":"grp"},"mark":{"type":"rule","color":"black","strokeWidth":1.6,"yOffset":24},"encoding":{"x":{"field":"cat","type":"nominal","bandPosition":-0.04},"x2":{"field":"cat2","bandPosition":1.1},"y":{"value":"height"}}},
{"data":{"name":"grp"},"mark":{"type":"text","fontWeight":"bold","fontSize":12.5,"baseline":"middle","yOffset":37},"encoding":{"x":{"field":"cat","type":"nominal","bandPosition":1.1176},"y":{"value":"height"},"text":{"field":"g"}}}
]},
{"width":250,"height":167,"title":{"text":"F","dy":-1},"resolve":{"scale":{"xOffset":"independent"}},"layer":[
{"data":{"name":"bars"},"transform":[{"filter":"datum.panel=='F'"}],"mark":{"type":"bar","stroke":"black","strokeWidth":1.6},"encoding":{"x":{"field":"cat","type":"nominal","sort":null,"scale":{"domain":["RC-Male","RC-Female","HFD-Male","HFD-Female"],"paddingInner":0.19,"paddingOuter":0.08},"axis":{"title":null,"labelExpr":"split(datum.value,'-')[1]"}},"y":{"field":"mean","type":"quantitative","scale":{"domain":[0,800],"nice":false},"axis":{"values":[0,200,400,600,800],"title":"Muscle DAG (nmol/g)"}},"fill":{"condition":{"test":"indexof(datum.cat,'Female')>=0","value":"#808080"},"value":"white"}}},
{"data":{"name":"dots"},"transform":[{"filter":"datum.panel=='F'"}],"mark":{"type":"circle","size":38,"color":"black","opacity":1},"encoding":{"x":{"field":"cat","type":"nominal"},"xOffset":{"field":"j","type":"quantitative","scale":{"domain":[-2.55,2.55],"range":[0,51]}},"y":{"field":"v","type":"quantitative"}}},
{"data":{"name":"bars"},"transform":[{"filter":"datum.panel=='F'"}],"mark":{"type":"errorbar","ticks":true,"size":23,"thickness":1.6,"color":"black"},"encoding":{"x":{"field":"cat","type":"nominal"},"y":{"field":"lo","type":"quantitative","title":"Muscle DAG (nmol/g)"},"y2":{"field":"hi"}}},
{"data":{"name":"br"},"transform":[{"filter":"datum.panel=='F'"}],"mark":{"type":"rule","color":"black","strokeWidth":1.6,"xOffset":2,"x2Offset":-2},"encoding":{"x":{"field":"cat","type":"nominal"},"x2":{"field":"cat2"},"y":{"field":"y","type":"quantitative"}}},
{"data":{"name":"br"},"transform":[{"filter":"datum.panel=='F' && datum.kind=='long'"}],"mark":{"type":"text","text":"P","align":"right","dx":-19,"dy":-7,"baseline":"alphabetic","fontStyle":"italic","fontWeight":"bold","fontSize":11.5},"encoding":{"x":{"field":"tc","type":"nominal"},"y":{"field":"y","type":"quantitative"}}},
{"data":{"name":"br"},"transform":[{"filter":"datum.panel=='F' && datum.kind=='long'"}],"mark":{"type":"text","align":"left","dx":-19,"dy":-7,"baseline":"alphabetic","fontWeight":"bold","fontSize":11.5},"encoding":{"x":{"field":"tc","type":"nominal"},"y":{"field":"y","type":"quantitative"},"text":{"field":"p"}}},
{"data":{"name":"br"},"transform":[{"filter":"datum.panel=='F' && datum.kind=='short'"}],"mark":{"type":"text","text":"P","align":"right","dx":-11,"dy":-7,"baseline":"alphabetic","fontStyle":"italic","fontWeight":"bold","fontSize":11.5},"encoding":{"x":{"field":"cat","type":"nominal","bandPosition":1.1176},"y":{"field":"y","type":"quantitative"}}},
{"data":{"name":"br"},"transform":[{"filter":"datum.panel=='F' && datum.kind=='short'"}],"mark":{"type":"text","align":"left","dx":-11,"dy":-7,"baseline":"alphabetic","fontWeight":"bold","fontSize":11.5},"encoding":{"x":{"field":"cat","type":"nominal","bandPosition":1.1176},"y":{"field":"y","type":"quantitative"},"text":{"field":"p"}}},
{"data":{"name":"grp"},"mark":{"type":"rule","color":"black","strokeWidth":1.6,"yOffset":24},"encoding":{"x":{"field":"cat","type":"nominal","bandPosition":-0.04},"x2":{"field":"cat2","bandPosition":1.1},"y":{"value":"height"}}},
{"data":{"name":"grp"},"mark":{"type":"text","fontWeight":"bold","fontSize":12.5,"baseline":"middle","yOffset":37},"encoding":{"x":{"field":"cat","type":"nominal","bandPosition":1.1176},"y":{"value":"height"},"text":{"field":"g"}}}
]},
{"width":250,"height":167,"title":{"text":"G","dy":3},"resolve":{"scale":{"xOffset":"independent"}},"layer":[
{"data":{"name":"bars"},"transform":[{"filter":"datum.panel=='G'"}],"mark":{"type":"bar","stroke":"black","strokeWidth":1.6},"encoding":{"x":{"field":"cat","type":"nominal","sort":null,"scale":{"domain":["RC-Male","RC-Female","HFD-Male","HFD-Female"],"paddingInner":0.19,"paddingOuter":0.08},"axis":{"title":null,"labelExpr":"split(datum.value,'-')[1]"}},"y":{"field":"mean","type":"quantitative","scale":{"domain":[0,300],"nice":false},"axis":{"values":[0,50,100,150,200,250,300],"tickCount":10,"title":"Muscle Ceramides (nmol/g)"}},"fill":{"condition":{"test":"indexof(datum.cat,'Female')>=0","value":"#808080"},"value":"white"}}},
{"data":{"name":"dots"},"transform":[{"filter":"datum.panel=='G'"}],"mark":{"type":"circle","size":38,"color":"black","opacity":1},"encoding":{"x":{"field":"cat","type":"nominal"},"xOffset":{"field":"j","type":"quantitative","scale":{"domain":[-2.55,2.55],"range":[0,51]}},"y":{"field":"v","type":"quantitative"}}},
{"data":{"name":"bars"},"transform":[{"filter":"datum.panel=='G'"}],"mark":{"type":"errorbar","ticks":true,"size":23,"thickness":1.6,"color":"black"},"encoding":{"x":{"field":"cat","type":"nominal"},"y":{"field":"lo","type":"quantitative","title":"Muscle Ceramides (nmol/g)"},"y2":{"field":"hi"}}},
{"data":{"name":"br"},"transform":[{"filter":"datum.panel=='G'"}],"mark":{"type":"rule","color":"black","strokeWidth":1.6,"xOffset":2,"x2Offset":-2},"encoding":{"x":{"field":"cat","type":"nominal"},"x2":{"field":"cat2"},"y":{"field":"y","type":"quantitative"}}},
{"data":{"name":"br"},"transform":[{"filter":"datum.panel=='G' && datum.kind=='long'"}],"mark":{"type":"text","text":"P","align":"right","dx":-19,"dy":-7,"baseline":"alphabetic","fontStyle":"italic","fontWeight":"bold","fontSize":11.5},"encoding":{"x":{"field":"tc","type":"nominal"},"y":{"field":"y","type":"quantitative"}}},
{"data":{"name":"br"},"transform":[{"filter":"datum.panel=='G' && datum.kind=='long'"}],"mark":{"type":"text","align":"left","dx":-19,"dy":-7,"baseline":"alphabetic","fontWeight":"bold","fontSize":11.5},"encoding":{"x":{"field":"tc","type":"nominal"},"y":{"field":"y","type":"quantitative"},"text":{"field":"p"}}},
{"data":{"name":"grp"},"mark":{"type":"rule","color":"black","strokeWidth":1.6,"yOffset":24},"encoding":{"x":{"field":"cat","type":"nominal","bandPosition":-0.04},"x2":{"field":"cat2","bandPosition":1.1},"y":{"value":"height"}}},
{"data":{"name":"grp"},"mark":{"type":"text","fontWeight":"bold","fontSize":12.5,"baseline":"middle","yOffset":37},"encoding":{"x":{"field":"cat","type":"nominal","bandPosition":1.1176},"y":{"value":"height"},"text":{"field":"g"}}}
]},
{"width":250,"height":167,"title":{"text":"H","dy":8},"resolve":{"scale":{"xOffset":"independent"}},"layer":[
{"data":{"name":"bars"},"transform":[{"filter":"datum.panel=='H'"}],"mark":{"type":"bar","stroke":"black","strokeWidth":1.6},"encoding":{"x":{"field":"cat","type":"nominal","sort":null,"scale":{"domain":["RC-Male","RC-Female","HFD-Male","HFD-Female"],"paddingInner":0.19,"paddingOuter":0.08},"axis":{"title":null,"labelExpr":"split(datum.value,'-')[1]"}},"y":{"field":"mean","type":"quantitative","scale":{"domain":[0,3],"nice":false},"axis":{"values":[0,1,2,3],"format":"d","title":["Muscle PKCθ activation","(membrane / cytosol)"]}},"fill":{"condition":{"test":"indexof(datum.cat,'Female')>=0","value":"#808080"},"value":"white"}}},
{"data":{"name":"dots"},"transform":[{"filter":"datum.panel=='H'"}],"mark":{"type":"circle","size":38,"color":"black","opacity":1},"encoding":{"x":{"field":"cat","type":"nominal"},"xOffset":{"field":"j","type":"quantitative","scale":{"domain":[-2.55,2.55],"range":[0,51]}},"y":{"field":"v","type":"quantitative"}}},
{"data":{"name":"bars"},"transform":[{"filter":"datum.panel=='H'"}],"mark":{"type":"errorbar","ticks":true,"size":23,"thickness":1.6,"color":"black"},"encoding":{"x":{"field":"cat","type":"nominal"},"y":{"field":"lo","type":"quantitative","title":["Muscle PKCθ activation","(membrane / cytosol)"]},"y2":{"field":"hi"}}},
{"data":{"name":"br"},"transform":[{"filter":"datum.panel=='H'"}],"mark":{"type":"rule","color":"black","strokeWidth":1.6,"xOffset":2,"x2Offset":-2},"encoding":{"x":{"field":"cat","type":"nominal"},"x2":{"field":"cat2"},"y":{"field":"y","type":"quantitative"}}},
{"data":{"name":"br"},"transform":[{"filter":"datum.panel=='H' && datum.kind=='long'"}],"mark":{"type":"text","text":"P","align":"right","dx":-19,"dy":-7,"baseline":"alphabetic","fontStyle":"italic","fontWeight":"bold","fontSize":11.5},"encoding":{"x":{"field":"tc","type":"nominal"},"y":{"field":"y","type":"quantitative"}}},
{"data":{"name":"br"},"transform":[{"filter":"datum.panel=='H' && datum.kind=='long'"}],"mark":{"type":"text","align":"left","dx":-19,"dy":-7,"baseline":"alphabetic","fontWeight":"bold","fontSize":11.5},"encoding":{"x":{"field":"tc","type":"nominal"},"y":{"field":"y","type":"quantitative"},"text":{"field":"p"}}},
{"data":{"name":"br"},"transform":[{"filter":"datum.panel=='H' && datum.kind=='short'"}],"mark":{"type":"text","text":"P","align":"right","dx":-11,"dy":-7,"baseline":"alphabetic","fontStyle":"italic","fontWeight":"bold","fontSize":11.5},"encoding":{"x":{"field":"cat","type":"nominal","bandPosition":1.1176},"y":{"field":"y","type":"quantitative"}}},
{"data":{"name":"br"},"transform":[{"filter":"datum.panel=='H' && datum.kind=='short'"}],"mark":{"type":"text","align":"left","dx":-11,"dy":-7,"baseline":"alphabetic","fontWeight":"bold","fontSize":11.5},"encoding":{"x":{"field":"cat","type":"nominal","bandPosition":1.1176},"y":{"field":"y","type":"quantitative"},"text":{"field":"p"}}},
{"data":{"name":"grp"},"mark":{"type":"rule","color":"black","strokeWidth":1.6,"yOffset":24},"encoding":{"x":{"field":"cat","type":"nominal","bandPosition":-0.04},"x2":{"field":"cat2","bandPosition":1.1},"y":{"value":"height"}}},
{"data":{"name":"grp"},"mark":{"type":"text","fontWeight":"bold","fontSize":12.5,"baseline":"middle","yOffset":37},"encoding":{"x":{"field":"cat","type":"nominal","bandPosition":1.1176},"y":{"value":"height"},"text":{"field":"g"}}}
]}
]
}
